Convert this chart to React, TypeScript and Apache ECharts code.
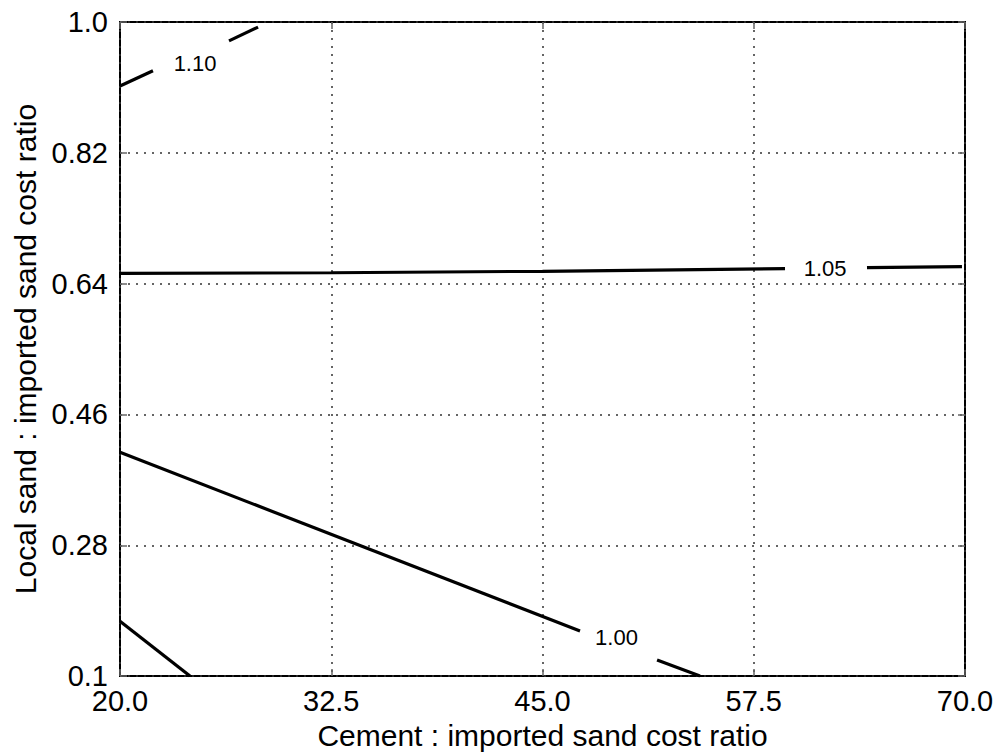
import React, { useEffect, useRef } from "react";
import * as echarts from "echarts";

const xTicks = [20, 32.5, 45, 57.5, 70];
const xTickLabels = ["20.0", "32.5", "45.0", "57.5", "70.0"];
const yTicks = [0.1, 0.28, 0.46, 0.64, 0.82, 1.0];
const yTickLabels = ["0.1", "0.28", "0.46", "0.64", "0.82", "1.0"];

// contour segments (gaps are where labels sit)
const contour110 = [
  [[20, 0.912], [21.95, 0.933]],
  [[26.45, 0.974], [28.17, 0.993]],
];
const contour105 = [
  [[20, 0.654], [32.5, 0.655], [45, 0.657], [59.35, 0.6606]],
  [[64.2, 0.662], [69.82, 0.6633]],
];
const contour100 = [
  [[20, 0.408], [47.22, 0.162]],
  [[51.78, 0.122], [54.32, 0.1]],
];
const contour095 = [[[20, 0.1756], [24.14, 0.1]]];

const contourLabels = [
  [24.44, 0.9423, "1.10"],
  [61.72, 0.6606, "1.05"],
  [49.38, 0.1526, "1.00"],
];

const FONT = "Liberation Sans, Arial, Helvetica, sans-serif";

export default function App() {
  const ref = useRef<HTMLDivElement>(null);
  useEffect(() => {
    document.body.style.margin = "0";
    if (!ref.current) return;
    const chart = echarts.init(ref.current, undefined, { renderer: "svg" });
    const segSeries: any[] = [];
    [contour110, contour105, contour100, contour095].forEach((c) => {
      c.forEach((seg) => {
        segSeries.push({
          type: "line",
          data: seg,
          symbol: "none",
          lineStyle: { color: "#000", width: 3.2 },
          silent: true,
          z: 5,
        });
      });
    });
    const labelFmt = (arr: string[], ticks: number[]) => (v: number) => {
      const i = ticks.findIndex((t) => Math.abs(t - v) < 1e-6);
      return i >= 0 ? arr[i] : "";
    };
    const tickCommon = {
      show: true,
      inside: true,
      length: 7,
      lineStyle: { color: "#666", width: 1.5 },
    };
    chart.setOption({
      animation: false,
      backgroundColor: "#fff",
      grid: {
        left: 120,
        right: 38,
        top: 22,
        bottom: 78,
        show: true,
        borderColor: "#000",
        borderWidth: 2,
      },
      xAxis: [
        {
          type: "value",
          min: 20,
          max: 70,
          position: "bottom",
          name: "Cement : imported sand cost ratio",
          nameLocation: "middle",
          nameGap: 39,
          nameTextStyle: { fontSize: 30, color: "#000", fontFamily: FONT },
          axisLine: { show: false },
          axisTick: { ...tickCommon, customValues: xTicks },
          axisLabel: {
            customValues: xTicks,
            formatter: labelFmt(xTickLabels, xTicks),
            fontSize: 29,
            color: "#000",
            fontFamily: FONT,
            margin: 10,
          },
          splitLine: {
            show: true,
            lineStyle: { color: "#333", width: 1.5, type: [2, 6] },
          },
        },
        {
          type: "value",
          min: 20,
          max: 70,
          position: "top",
          axisLine: { show: false },
          axisTick: { ...tickCommon, customValues: xTicks },
          axisLabel: { show: false, customValues: xTicks },
          splitLine: { show: false },
        },
      ],
      yAxis: [
        {
          type: "value",
          min: 0.1,
          max: 1.0,
          position: "left",
          name: "Local sand : imported sand cost ratio",
          nameLocation: "middle",
          nameGap: 74,
          nameTextStyle: { fontSize: 30, color: "#000", fontFamily: FONT },
          axisLine: { show: false },
          axisTick: { ...tickCommon, customValues: yTicks },
          axisLabel: {
            customValues: yTicks,
            formatter: labelFmt(yTickLabels, yTicks),
            fontSize: 29,
            color: "#000",
            fontFamily: FONT,
            margin: 12,
          },
          splitLine: {
            show: true,
            lineStyle: { color: "#333", width: 1.5, type: [2, 6] },
          },
        },
        {
          type: "value",
          min: 0.1,
          max: 1.0,
          position: "right",
          axisLine: { show: false },
          axisTick: { ...tickCommon, customValues: yTicks },
          axisLabel: { show: false, customValues: yTicks },
          splitLine: { show: false },
        },
      ],
      series: [
        ...segSeries,
        {
          type: "scatter",
          data: contourLabels.map((d) => ({ value: [d[0], d[1]], name: d[2] })),
          symbol: "circle",
          symbolSize: 1,
          itemStyle: { color: "rgba(0,0,0,0)" },
          silent: true,
          z: 6,
          label: {
            show: true,
            position: "inside",
            formatter: (p: any) => p.name,
            fontSize: 22,
            color: "#000",
            opacity: 1,
            textBorderWidth: 0,
            fontFamily: FONT,
            align: "center",
            verticalAlign: "middle",
          },
        },
      ],
    });
    return () => chart.dispose();
  }, []);
  return <div ref={ref} style={{ width: 1003, height: 755 }} />;
}
